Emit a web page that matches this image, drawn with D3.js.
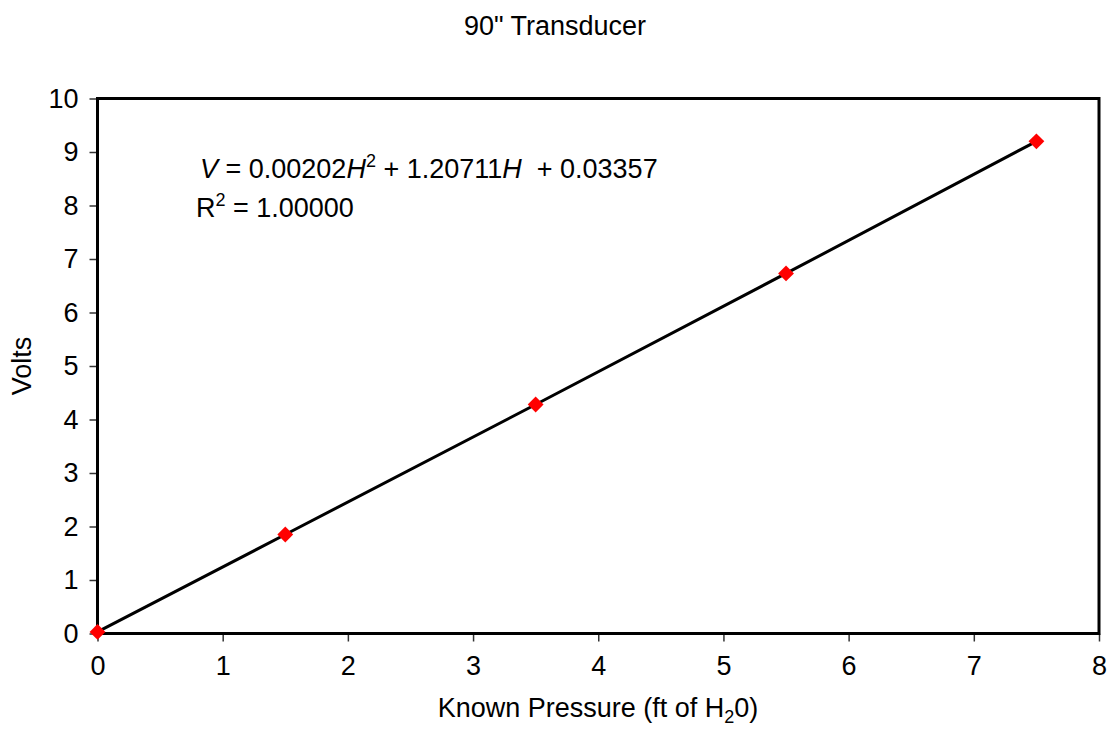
<!DOCTYPE html>
<html>
<head>
<meta charset="utf-8">
<script src="https://cdn.jsdelivr.net/npm/d3@7.9.0/dist/d3.min.js"></script>
<style>
  body { margin: 0; background: #fff; }
  svg { font-family: "Liberation Sans", Arial, sans-serif; }
</style>
</head>
<body>
<div id="chart"></div>
<script>
// data
const pressure = [0, 1.5, 3.5, 5.5, 7.5];
const volts = [0.03, 1.85, 4.28, 6.73, 9.2];
const xTicks = [0, 1, 2, 3, 4, 5, 6, 7, 8];
const yTicks = [0, 1, 2, 3, 4, 5, 6, 7, 8, 9, 10];

const width = 1109, height = 733;
const FS = '27px';

const svg = d3.select('#chart').append('svg')
  .attr('width', width)
  .attr('height', height);

const xScale = d3.scaleLinear().domain([0, 8]).range([97.5, 1099]);
const yScale = d3.scaleLinear().domain([0, 10]).range([633.5, 98.5]);

// axes (ticks outside)
const xAxis = svg.append('g')
  .attr('transform', `translate(0, ${yScale(0)})`)
  .call(d3.axisBottom(xScale).tickValues(xTicks).tickSize(8).tickPadding(14));
const yAxis = svg.append('g')
  .attr('transform', `translate(${xScale(0)}, 0)`)
  .call(d3.axisLeft(yScale).tickValues(yTicks).tickSize(8).tickPadding(11));

[xAxis, yAxis].forEach(g => {
  g.attr('font-size', null).attr('font-family', null);
  g.select('.domain').remove();
  g.selectAll('.tick line').attr('stroke', '#333').attr('stroke-width', 1.5);
  g.selectAll('.tick text')
    .attr('fill', '#000')
    .attr('font-size', FS);
});

// plot frame
svg.append('rect')
  .attr('x', xScale(0))
  .attr('y', yScale(10))
  .attr('width', xScale(8) - xScale(0))
  .attr('height', yScale(0) - yScale(10))
  .attr('fill', 'none')
  .attr('stroke', '#000')
  .attr('stroke-width', 3);

const pts = pressure.map((p, i) => ({ x: p, y: volts[i] }));

// trendline through the points
svg.append('path')
  .datum(pts)
  .attr('fill', 'none')
  .attr('stroke', '#000')
  .attr('stroke-width', 3)
  .attr('d', d3.line().x(d => xScale(d.x)).y(d => yScale(d.y)));

// red diamond markers
svg.append('g').selectAll('path')
  .data(pts)
  .join('path')
  .attr('transform', d => `translate(${xScale(d.x)}, ${yScale(d.y)})`)
  .attr('d', d3.symbol(d3.symbolDiamond2, 160)())
  .attr('fill', '#ff0000');

// title
svg.append('text')
  .attr('x', 555).attr('y', 35)
  .attr('text-anchor', 'middle')
  .attr('font-size', FS)
  .text('90" Transducer');

// axis titles
const xt = svg.append('text')
  .attr('x', 598).attr('y', 717)
  .attr('text-anchor', 'middle')
  .attr('font-size', FS);
xt.append('tspan').text('Known Pressure (ft of H');
xt.append('tspan').attr('dy', 6).attr('font-size', '18px').text('2');
xt.append('tspan').attr('dy', -6).text('0)');

svg.append('text')
  .attr('transform', 'translate(31, 366) rotate(-90)')
  .attr('text-anchor', 'middle')
  .attr('font-size', FS)
  .text('Volts');

// equation label
const eq = svg.append('text')
  .attr('x', 200).attr('y', 178)
  .attr('font-size', FS);
eq.append('tspan').attr('font-style', 'italic').text('V');
eq.append('tspan').text(' = 0.00202');
eq.append('tspan').attr('font-style', 'italic').text('H');
eq.append('tspan').attr('dy', -11).attr('font-size', '18px').text('2');
eq.append('tspan').attr('dy', 11).text(' + 1.20711');
eq.append('tspan').attr('font-style', 'italic').text('H');
eq.append('tspan').text('\u00a0 + 0.03357');

const r2 = svg.append('text')
  .attr('x', 196).attr('y', 217)
  .attr('font-size', FS);
r2.append('tspan').text('R');
r2.append('tspan').attr('dy', -11).attr('font-size', '18px').text('2');
r2.append('tspan').attr('dy', 11).text(' = 1.00000');
</script>
</body>
</html>
